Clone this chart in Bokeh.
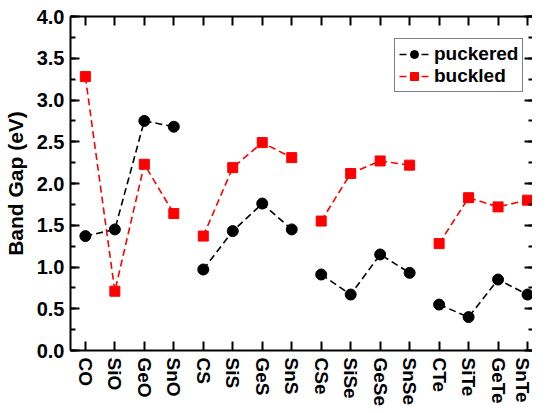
import numpy as np
from bokeh.plotting import figure
from bokeh.models import (Range1d, FixedTicker, LinearAxis, Legend, LegendItem,
                          NumeralTickFormatter)
from bokeh.embed import file_html
from bokeh.resources import INLINE

# ---- data ----
categories = ["CO", "SiO", "GeO", "SnO", "CS", "SiS", "GeS", "SnS",
              "CSe", "SiSe", "GeSe", "SnSe", "CTe", "SiTe", "GeTe", "SnTe"]
puckered = [1.37, 1.45, 2.75, 2.68, 0.97, 1.43, 1.76, 1.45,
            0.91, 0.67, 1.15, 0.93, 0.55, 0.40, 0.85, 0.67]
buckled = [3.28, 0.71, 2.23, 1.64, 1.37, 2.19, 2.49, 2.31,
           1.55, 2.12, 2.27, 2.22, 1.28, 1.83, 1.72, 1.80]
group_size = 4
y_ticks = [0.0, 0.5, 1.0, 1.5, 2.0, 2.5, 3.0, 3.5, 4.0]
y_minor = [0.25 * i for i in range(17)]

FONT = "Liberation Sans"

x = np.arange(len(categories), dtype=float)


def broken(vals):
    xs, ys = [], []
    for g in range(0, len(vals), group_size):
        xs += list(x[g:g + group_size]) + [np.nan]
        ys += list(vals[g:g + group_size]) + [np.nan]
    return xs, ys


p = figure(width=532, height=409, output_backend="svg", toolbar_location=None,
           x_range=Range1d(-0.5045, 15.168), y_range=Range1d(0, 4),
           min_border_left=66, min_border_right=0, min_border_top=16,
           min_border_bottom=55, background_fill_color="white",
           border_fill_color="white")
p.outline_line_color = None
p.xgrid.visible = False
p.ygrid.visible = False

# data marks
px, py = broken(puckered)
bx, by = broken(buckled)
lp = p.line(px, py, line_color="black", line_width=1.6, line_dash="7 4")
lb = p.line(bx, by, line_color="#ff0000", line_width=1.6, line_dash="7 4")
sp = p.scatter(x, puckered, marker="circle", size=11, fill_color="black",
               line_color="black")
sb = p.scatter(x, buckled, marker="square", size=10, fill_color="#ff0000",
               line_color="#ff0000")

# axes
xt = FixedTicker(ticks=list(x))
yt = FixedTicker(ticks=y_ticks, minor_ticks=y_minor)


def style(ax):
    ax.axis_line_width = 2
    ax.axis_line_color = "black"
    ax.major_tick_line_width = 2
    ax.minor_tick_line_width = 2
    ax.major_tick_line_color = "black"
    ax.minor_tick_line_color = "black"
    ax.major_tick_in = 9
    ax.major_tick_out = 0
    ax.minor_tick_in = 5
    ax.minor_tick_out = 0
    ax.major_label_text_color = "black"
    ax.axis_label_text_color = "black"


xa = p.xaxis[0]
xa.ticker = xt
overrides = {float(i): c for i, c in zip(x, categories)}
overrides.update({int(i): c for i, c in zip(x, categories)})
xa.major_label_overrides = overrides
xa.major_label_orientation = "vertical"
xa.major_label_text_font = FONT
xa.major_label_text_font_style = "bold"
xa.major_label_text_font_size = "19px"
xa.major_label_standoff = 7
style(xa)
xa.minor_tick_in = 0

ya = p.yaxis[0]
ya.ticker = yt
ya.formatter = NumeralTickFormatter(format="0.0")
ya.major_label_text_font = FONT
ya.major_label_text_font_style = "bold"
ya.major_label_text_font_size = "20px"
ya.major_label_standoff = 6
ya.axis_label = "Band Gap (eV)"
ya.axis_label_text_font = FONT
ya.axis_label_text_font_style = "bold"
ya.axis_label_text_font_size = "21px"
ya.axis_label_standoff = 7
style(ya)

blank_x = {float(i): "" for i in x}
blank_x.update({int(i): "" for i in x})
top = LinearAxis(ticker=xt, major_label_overrides=blank_x,
                 major_label_standoff=0)
style(top)
top.minor_tick_in = 0
p.add_layout(top, "above")

blank_y = {float(t): "" for t in y_ticks}
blank_y.update({int(t): "" for t in y_ticks if float(t).is_integer()})
right = LinearAxis(ticker=yt, major_label_overrides=blank_y,
                   major_label_standoff=0)
style(right)
right.axis_line_color = None
right.major_tick_in = 8
right.minor_tick_in = 4
p.add_layout(right, "right")

legend = Legend(items=[LegendItem(label="puckered", renderers=[lp, sp]),
                       LegendItem(label="buckled", renderers=[lb, sb])],
                location=(324, 258), margin=0)
legend.label_text_font = FONT
legend.label_text_font_style = "bold"
legend.label_text_font_size = "19px"
legend.label_text_color = "black"
legend.border_line_color = "black"
legend.border_line_width = 1.5
legend.padding = 4
legend.spacing = 0
legend.glyph_width = 30
legend.glyph_height = 20
legend.label_height = 20
legend.label_standoff = 5
legend.background_fill_alpha = 1
p.add_layout(legend)

open("out.html", "w").write(file_html(p, INLINE))
